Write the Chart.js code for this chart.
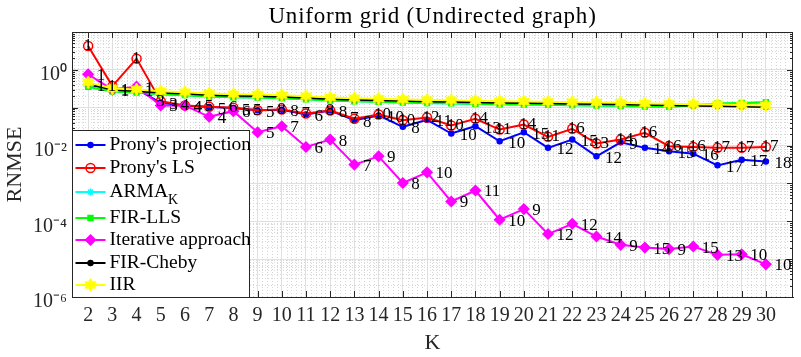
<!DOCTYPE html>
<html>
<head>
<meta charset="utf-8">
<script src="https://cdn.jsdelivr.net/npm/chart.js@4.4.0/dist/chart.umd.min.js"></script>
<style>
  html, body { margin: 0; padding: 0; background: #fff; }
  canvas { display: block; }
</style>
</head>
<body>
<canvas id="c" width="801" height="357"></canvas>
<script>
// ---------------- data ----------------
const TITLE = 'Uniform grid (Undirected graph)';
const X_LABEL = 'K';
const Y_LABEL = 'RNMSE';
const K = [2,3,4,5,6,7,8,9,10,11,12,13,14,15,16,17,18,19,20,21,22,23,24,25,26,27,28,29,30];

const seriesNames = ["Prony's projection", "Prony's LS", "ARMA", "FIR-LLS", "Iterative approach", "FIR-Cheby", "IIR"];

const pronyProj = [0.40,0.32,0.31,0.135,0.112,0.104,0.098,0.086,0.088,0.066,0.0845,0.047,0.0624,0.0313,0.048,0.0208,0.0325,0.013,0.0225,0.0087,0.0144,0.0052,0.0122,0.0087,0.0071,0.0061,0.0030,0.0042,0.0038];
const pronyLS   = [4.27,0.372,1.98,0.149,0.115,0.106,0.100,0.086,0.090,0.0705,0.0845,0.051,0.066,0.047,0.055,0.034,0.051,0.0265,0.036,0.017,0.0277,0.0113,0.0144,0.0217,0.0096,0.0092,0.0087,0.0087,0.0092];
const armaK     = [0.36,0.268,0.252,0.226,0.214,0.197,0.189,0.186,0.178,0.167,0.155,0.148,0.143,0.137,0.132,0.130,0.126,0.123,0.121,0.119,0.116,0.114,0.111,0.107,0.105,0.116,0.128,0.132,0.139];
const firLLS    = [0.36,0.270,0.253,0.228,0.215,0.198,0.190,0.187,0.179,0.168,0.156,0.149,0.144,0.138,0.133,0.131,0.127,0.124,0.122,0.120,0.117,0.115,0.112,0.108,0.106,0.117,0.129,0.133,0.140];
const iterative = [0.76,0.30,0.36,0.115,0.113,0.0575,0.081,0.0225,0.0325,0.0092,0.0144,0.00314,0.0052,0.00103,0.00196,3.34e-4,6.5e-4,1.1e-4,2.1e-4,4.6e-5,8.6e-5,3.95e-5,2.39e-5,2.02e-5,1.84e-5,2.15e-5,1.30e-5,1.35e-5,7.3e-6];
const firCheby  = [0.426,0.296,0.278,0.250,0.236,0.217,0.208,0.205,0.196,0.184,0.171,0.163,0.158,0.152,0.146,0.143,0.140,0.136,0.133,0.131,0.128,0.126,0.123,0.119,0.116,0.113,0.111,0.108,0.105];
const iir       = [0.467,0.324,0.304,0.274,0.258,0.238,0.228,0.224,0.215,0.202,0.187,0.179,0.173,0.166,0.160,0.157,0.153,0.149,0.146,0.144,0.140,0.138,0.135,0.130,0.127,0.124,0.122,0.118,0.115];

// numbers printed next to the points
const labelsProj = ['1','1','1','3','4','5','5','5','8','6','8','8','10','8','11','10','13','10','15','12','15','12','9','14','15','16','17','17','18'];
const labelsLS   = ['1','1','1','3','4','5','6','5','8','7','8','7','10','10','12','10','14','11','14','11','16','13','14','16','16','16','17','17','17'];
const labelsIter = ['1','1','1','3','4','4','6','5','7','6','8','7','9','8','10','9','11','10','9','12','12','14','9','15','9','15','13','10','10'];

// y axis tick labels
const yTickValues = [1e-6, 1e-4, 1e-2, 1];
const yTickLabels = ['10\u207B\u2076', '10\u207B\u2074', '10\u207B\u00B2', '10\u2070'];
const X_MIN = 1.333, X_MAX = 31.12, Y_MIN = 1e-6, Y_MAX = 10;

// ---------------- styling helpers ----------------
const SERIF = '"Liberation Serif", "Times New Roman", serif';
const AXIS_COLOR = '#262626';

function makeHexagram(r, fill) {
  const c = document.createElement('canvas');
  const s = Math.ceil(r * 2 + 2);
  c.width = s; c.height = s;
  const g = c.getContext('2d');
  const cx = s / 2, cy = s / 2;
  g.beginPath();
  for (let i = 0; i < 12; i++) {
    const a = -Math.PI / 2 + i * Math.PI / 6;
    const rr = (i % 2 === 0) ? r : r * 0.577;
    const x = cx + rr * Math.cos(a), y = cy + rr * Math.sin(a);
    if (i === 0) g.moveTo(x, y); else g.lineTo(x, y);
  }
  g.closePath();
  g.fillStyle = fill; g.fill();
  g.strokeStyle = fill; g.lineWidth = 1; g.stroke();
  return c;
}
const hexYellow = makeHexagram(6.5, '#ffff00');

function pts(vals) { return K.map((k, i) => ({ x: k, y: vals[i] })); }

const styles = [
  { color: '#0000ff', pointStyle: 'circle',  radius: 2.5, fill: '#0000ff', order: 6 },
  { color: '#ff0000', pointStyle: 'circle',  radius: 4.5, fill: 'rgba(255,255,255,0)', order: 5 },
  { color: '#00ffff', pointStyle: 'star',    radius: 3.5, fill: '#00ffff', order: 4 },
  { color: '#00ff00', pointStyle: 'rect',    radius: 3.5, fill: '#00ff00', order: 3 },
  { color: '#ff00ff', pointStyle: 'rectRot', radius: 5,   fill: '#ff00ff', order: 2 },
  { color: '#000000', pointStyle: 'circle',  radius: 2.5, fill: '#000000', order: 1 },
  { color: '#ffff00', pointStyle: hexYellow, radius: 6.5, fill: '#ffff00', order: 0 }
];
const allValues = [pronyProj, pronyLS, armaK, firLLS, iterative, firCheby, iir];

const datasets = allValues.map((vals, i) => ({
  label: seriesNames[i],
  data: pts(vals),
  borderColor: styles[i].color,
  backgroundColor: styles[i].fill,
  borderWidth: 2,
  pointStyle: styles[i].pointStyle,
  pointRadius: styles[i].radius,
  pointBorderColor: styles[i].color,
  pointBackgroundColor: styles[i].fill,
  pointBorderWidth: 1.5,
  tension: 0,
  order: styles[i].order,
  clip: false
}));

function isDecade(v) {
  const l = Math.log10(v);
  return Math.abs(l - Math.round(l)) < 1e-9;
}

// ---------------- plugins ----------------
const framePlugin = {
  id: 'frame',
  beforeDatasetsDraw(chart) {
    const { ctx, chartArea: a, scales } = chart;
    ctx.save();
    // minor x grid (dotted)
    ctx.strokeStyle = '#d6d6d6';
    ctx.lineWidth = 1;
    ctx.setLineDash([1, 2]);
    for (let v = Math.ceil(X_MIN * 5) / 5; v <= X_MAX; v += 0.2) {
      const r = Math.round(v * 5) / 5;
      if (Math.abs(r - Math.round(r)) < 1e-6) continue;
      const x = Math.round(scales.x.getPixelForValue(r)) + 0.5;
      ctx.beginPath(); ctx.moveTo(x, a.top); ctx.lineTo(x, a.bottom); ctx.stroke();
    }
    ctx.setLineDash([]);
    // box
    ctx.strokeStyle = AXIS_COLOR;
    ctx.lineWidth = 1;
    ctx.strokeRect(Math.round(a.left) + 0.5, Math.round(a.top) + 0.5, Math.round(a.right - a.left) - 1, Math.round(a.bottom - a.top));
    // inward ticks on x
    ctx.beginPath();
    K.forEach(k => {
      const x = Math.round(scales.x.getPixelForValue(k)) + 0.5;
      ctx.moveTo(x, a.bottom); ctx.lineTo(x, a.bottom - 6);
      ctx.moveTo(x, a.top); ctx.lineTo(x, a.top + 6);
    });
    // inward ticks on y
    scales.y.ticks.forEach(t => {
      const y = Math.round(scales.y.getPixelForValue(t.value)) + 0.5;
      const len = isDecade(t.value) ? 6 : 3;
      ctx.moveTo(a.left, y); ctx.lineTo(a.left + len, y);
      ctx.moveTo(a.right, y); ctx.lineTo(a.right - len, y);
    });
    ctx.stroke();
    ctx.restore();
  }
};

const pointLabelPlugin = {
  id: 'pointLabels',
  afterDatasetsDraw(chart) {
    const ctx = chart.ctx;
    const sets = [
      { ds: 0, labels: labelsProj, dx: 8.5, dy: 2 },
      { ds: 1, labels: labelsLS,   dx: -4.5, dy: 0 },
      { ds: 4, labels: labelsIter, dx: 8.5, dy: 1.5 }
    ];
    ctx.save();
    ctx.font = '17px ' + SERIF;
    ctx.fillStyle = '#000';
    ctx.textAlign = 'left';
    ctx.textBaseline = 'middle';
    sets.forEach(s => {
      const meta = chart.getDatasetMeta(s.ds);
      meta.data.forEach((p, i) => ctx.fillText(s.labels[i], p.x + s.dx, p.y + s.dy));
    });
    ctx.restore();
  }
};

const legendPlugin = {
  id: 'mlegend',
  afterDraw(chart) {
    const { ctx, chartArea: a } = chart;
    const left = Math.round(a.left) + 0.5, right = 249.5;
    const top = 130.5, bottom = Math.round(a.bottom) + 0.5;
    const rows = [145, 168, 192, 218, 240, 263, 285];
    ctx.save();
    ctx.fillStyle = '#fff';
    ctx.fillRect(left, top, right - left, bottom - top);
    ctx.strokeStyle = AXIS_COLOR;
    ctx.lineWidth = 1;
    ctx.strokeRect(left, top, right - left, bottom - top);
    chart.data.datasets.forEach((d, i) => {
      const y = rows[i];
      ctx.strokeStyle = d.borderColor;
      ctx.lineWidth = 2;
      ctx.beginPath(); ctx.moveTo(left + 3, y); ctx.lineTo(left + 33, y); ctx.stroke();
      ctx.fillStyle = d.pointBackgroundColor;
      ctx.strokeStyle = d.pointBorderColor;
      ctx.lineWidth = 1.5;
      if (Chart.helpers && Chart.helpers.drawPoint) {
        Chart.helpers.drawPoint(ctx, { pointStyle: d.pointStyle, radius: d.pointRadius, rotation: 0, borderWidth: 1.5 }, left + 18, y);
      }
      ctx.fillStyle = '#000';
      ctx.font = '19.5px ' + SERIF;
      ctx.textAlign = 'left';
      ctx.textBaseline = 'middle';
      ctx.fillText(d.label, left + 37, y);
      if (i === 2) {
        const w = ctx.measureText(d.label).width;
        ctx.font = '14px ' + SERIF;
        ctx.fillText('K', left + 37 + w, y + 8);
      }
    });
    ctx.restore();
  }
};

const titlePlugin = {
  id: 'mtitle',
  afterDraw(chart) {
    const { ctx, chartArea: a } = chart;
    ctx.save();
    ctx.font = '23px ' + SERIF;
    ctx.fillStyle = '#000';
    ctx.textAlign = 'center';
    ctx.textBaseline = 'alphabetic';
    if ('letterSpacing' in ctx) ctx.letterSpacing = '0.8px';
    ctx.fillText(TITLE, (a.left + a.right) / 2, 23);
    ctx.restore();
  }
};

// ---------------- chart ----------------
new Chart(document.getElementById('c'), {
  type: 'line',
  data: { datasets },
  options: {
    responsive: false,
    devicePixelRatio: 1,
    animation: false,
    layout: { padding: { top: 32, right: 1, left: 0, bottom: 0 } },
    plugins: { legend: { display: false }, tooltip: { enabled: false }, title: { display: false } },
    scales: {
      x: {
        type: 'linear', min: X_MIN, max: X_MAX,
        afterBuildTicks: s => { s.ticks = K.map(v => ({ value: v })); },
        afterFit: s => { s.height = 60; },
        ticks: { autoSkip: false, maxRotation: 0, minRotation: 0, padding: 7, color: AXIS_COLOR,
                 font: { family: SERIF, size: 20 }, callback: v => String(v) },
        grid: { color: '#e0e0e0', lineWidth: 1, drawTicks: false },
        border: { display: true, color: AXIS_COLOR, width: 1 },
        title: { display: true, text: X_LABEL, color: AXIS_COLOR, font: { family: SERIF, size: 22 }, padding: { top: 0, bottom: 1 } }
      },
      y: {
        type: 'logarithmic', min: Y_MIN, max: Y_MAX,
        afterBuildTicks: s => {
          const t = [];
          for (let e = -6; e <= 0; e++) for (let m = 1; m <= 9; m++) t.push({ value: m * Math.pow(10, e) });
          t.push({ value: 10 });
          s.ticks = t;
        },
        afterFit: s => { s.width = 72; },
        ticks: { autoSkip: false, padding: 5, labelOffset: 5, color: AXIS_COLOR, font: { family: SERIF, size: 20 },
                 callback: v => {
                   const i = yTickValues.findIndex(tv => Math.abs(Math.log10(tv) - Math.log10(v)) < 1e-6);
                   return i >= 0 ? yTickLabels[i] : '';
                 } },
        grid: { drawTicks: false, lineWidth: 1,
                color: c => (c.tick && !isDecade(c.tick.value)) ? '#d9d9d9' : '#e0e0e0' },
        border: { display: true, color: AXIS_COLOR, width: 1,
                  dash: c => (c.tick && !isDecade(c.tick.value)) ? [1, 2] : [] },
        title: { display: true, text: Y_LABEL, color: AXIS_COLOR, font: { family: SERIF, size: 22 }, padding: { top: 2, bottom: 0 } }
      }
    }
  },
  plugins: [framePlugin, pointLabelPlugin, legendPlugin, titlePlugin]
});
</script>
</body>
</html>
